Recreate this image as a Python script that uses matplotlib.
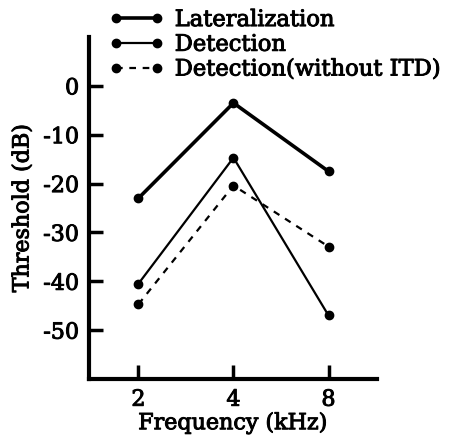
import numpy as np
import matplotlib
matplotlib.use("Agg")
import matplotlib.pyplot as plt
import matplotlib.patheffects as pe

# values (dB)
freqs = [2, 4, 8]
lateralization = [-23.0, -3.5, -17.5]
detection = [-40.5, -14.7, -47.0]
detection_no_itd = [-44.7, -20.4, -32.9]
yticks = [0, -10, -20, -30, -40, -50]

plt.rcParams['font.family'] = ['DejaVu Serif']
plt.rcParams['font.size'] = 16
# scanned print looks a bit heavier than regular weight
thick = [pe.withStroke(linewidth=0.7, foreground='black')]

fig = plt.figure(figsize=(4.51, 4.41), dpi=100)
ax = fig.add_axes([89/451, 62/441, 288/451, 342/441])

l1, = ax.plot(freqs, lateralization, '-o', color='black', lw=2.6, ms=6,
              label='Lateralization')
l2, = ax.plot(freqs, detection, '-o', color='black', lw=1.6, ms=6,
              label='Detection')
l3, = ax.plot(freqs, detection_no_itd, '--o', color='black', lw=1.6, ms=6,
              dashes=(3, 3), label='Detection(without ITD)')

ax.set_xscale('log', base=2)
ax.set_xlim(2**0.48, 2**3.51)
ax.set_xticks(freqs)
ax.set_xticklabels([str(f) for f in freqs])
ax.minorticks_off()
ax.set_ylim(-60, 10)
ax.set_yticks(yticks)
ax.set_yticklabels([str(t) for t in yticks])

for s in ['top', 'right']:
    ax.spines[s].set_visible(False)
for s in ['left', 'bottom']:
    ax.spines[s].set_linewidth(3)
ax.tick_params(direction='in', length=10, width=2.5, pad=7)

ax.set_xlabel('Frequency (kHz)', labelpad=1)
ax.set_ylabel('Threshold (dB)', labelpad=7)

leg = fig.legend(handles=[l1, l2, l3], loc='upper left',
                 bbox_to_anchor=(100/451, 1.0), frameon=False, numpoints=2,
                 handlelength=2.4, handletextpad=0.5, labelspacing=0.12,
                 borderaxespad=0, prop={'size': 16.3})

for t in (ax.get_xticklabels() + ax.get_yticklabels() + leg.get_texts()
          + [ax.xaxis.label, ax.yaxis.label]):
    t.set_path_effects(thick)

fig.savefig('out.png', dpi=100)
